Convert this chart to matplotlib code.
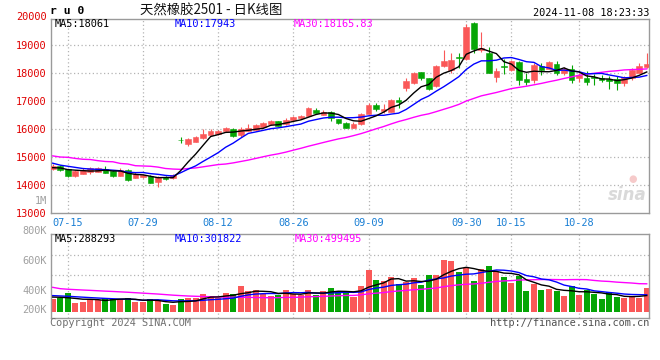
import numpy as np
import pandas as pd
import matplotlib
matplotlib.use("Agg")
import matplotlib.pyplot as plt
import matplotlib.transforms as mtransforms

# ---------------- data ----------------
trade_days = {
    7: [11, 12, 15, 16, 17, 18, 19, 22, 23, 24, 25, 26, 29, 30, 31],
    8: [1, 2, 5, 6, 7, 8, 9, 12, 13, 14, 15, 16, 19, 20, 21, 22, 23, 26, 27, 28, 29, 30],
    9: [2, 3, 4, 5, 6, 9, 10, 11, 12, 13, 18, 19, 20, 23, 24, 25, 26, 27, 30],
    10: [8, 9, 10, 11, 14, 15, 16, 17, 18, 21, 22, 23, 24, 25, 28, 29, 30, 31],
    11: [1, 4, 5, 6, 7, 8],
}
dates = [f"{m:02d}-{d:02d}" for m, days in trade_days.items() for d in days]

opens = [14580, 14690, 14570, 14340, 14420, 14460, 14490, 14580, 14510, 14350,
         14550, 14270, 14280, 14340, 14130, 14300, 14250, 15630, 15480, 15560,
         15680, 15800, 15830, 15940, 16010, 15780, 15950, 15980, 16100, 16190,
         16300, 16190, 16330, 16400, 16480, 16690, 16520, 16620, 16360, 16240,
         16060, 16180, 16560, 16880, 16660, 16630, 17040, 17490, 17650, 18030,
         17820, 17540, 18270, 18120, 18590, 18510, 19810, 18830, 18740, 17880,
         18270, 18110, 18410, 17800, 17760, 18270, 18170, 18330, 18000, 18150,
         17830, 17830, 17870, 17840, 17800, 17790, 17650, 17820, 18020, 18210]
highs = [14750, 14720, 14600, 14540, 14620, 14650, 14650, 14690, 14540, 14620,
         14570, 14480, 14400, 14360, 14330, 14330, 14420, 15740, 15700, 15750,
         16000, 16020, 15990, 16090, 16030, 16100, 16180, 16190, 16250, 16340,
         16310, 16410, 16470, 16520, 16810, 16750, 16680, 16640, 16380, 16260,
         16270, 16570, 16940, 16950, 16900, 17090, 17160, 17820, 18060, 18060,
         17850, 18300, 18830, 18710, 18710, 19760, 19840, 19490, 18940, 18200,
         18520, 18470, 18430, 18000, 18380, 18360, 18440, 18450, 18240, 18310,
         18000, 18100, 17990, 17940, 17910, 17910, 17900, 18180, 18380, 18720]
lows = [14560, 14500, 14300, 14310, 14390, 14420, 14470, 14430, 14280, 14330,
        14170, 14250, 14260, 14070, 13950, 14200, 14230, 15500, 15420, 15540,
        15660, 15780, 15810, 15920, 15740, 15720, 15930, 15960, 16060, 16170,
        16110, 16170, 16300, 16370, 16460, 16570, 16500, 16300, 16190, 16040,
        16040, 16160, 16540, 16670, 16570, 16610, 16760, 17380, 17620, 17760,
        17420, 17520, 18240, 18020, 18190, 18490, 18710, 18770, 18000, 17700,
        17980, 18090, 17590, 17600, 17670, 17950, 18140, 17940, 17940, 17640,
        17700, 17600, 17600, 17700, 17450, 17410, 17550, 17760, 18000, 18180]
closes = [14690, 14560, 14320, 14500, 14550, 14610, 14600, 14450, 14350, 14550,
          14200, 14400, 14370, 14090, 14300, 14230, 14370, 15610, 15640, 15710,
          15820, 15930, 15950, 16040, 15760, 16010, 16060, 16140, 16210, 16300,
          16120, 16350, 16430, 16490, 16770, 16600, 16630, 16400, 16240, 16060,
          16190, 16550, 16870, 16730, 16720, 17040, 16970, 17720, 18020, 17850,
          17430, 18270, 18450, 18490, 18530, 19660, 18860, 18890, 18020, 18090,
          18210, 18430, 17760, 17690, 18290, 18130, 18410, 18000, 18140, 17750,
          17950, 17690, 17830, 17770, 17740, 17660, 17860, 18120, 18260, 18340]
volumes_k = [230, 240, 330, 149, 169, 222, 208, 253, 220, 222,
             241, 172, 175, 222, 197, 133, 115, 229, 243, 243,
             315, 276, 243, 328, 309, 456, 364, 381, 315, 274,
             298, 381, 315, 298, 381, 304, 364, 420, 364, 364,
             269, 453, 745, 566, 543, 615, 489, 525, 596, 476,
             655, 655, 925, 901, 716, 775, 543, 764, 817, 716,
             615, 512, 645, 364, 494, 381, 400, 364, 274, 453,
             298, 394, 315, 220, 345, 256, 243, 286, 243, 417]

# moving-average values before a full window is available
ma5_head = [14630, 14620, 14560, 14540]
ma10_head = [14790, 14720, 14680, 14640, 14600, 14580, 14570, 14560, 14540]
ma30_head = [15050, 15010, 15000, 14960, 14930, 14920, 14880, 14850, 14840, 14780,
             14760, 14700, 14690, 14680, 14650, 14600, 14580, 14570, 14600, 14620,
             14660, 14700, 14740, 14760, 14800, 14850, 14900, 14960, 15020]
vma5_head = [262, 258, 250, 238]
vma10_head = [288, 282, 276, 268, 260, 252, 245, 238, 232]
vma30_head = [436, 412, 402, 395, 388, 382, 375, 368, 362, 355,
              348, 340, 332, 324, 316, 306, 296, 288, 281, 276,
              272, 268, 264, 262, 260, 258, 256, 254, 252]

tick_dates = ["07-15", "07-29", "08-12", "08-26", "09-09", "09-30", "10-15", "10-28"]
price_ticks = [13000, 14000, 15000, 16000, 17000, 18000, 19000]
price_legend = ["MA5:18061", "MA10:17943", "MA30:18165.83"]
vol_legend = ["MA5:288293", "MA10:301822", "MA30:499495"]
vol_tick_labels = ["800K", "600K", "400K", "200K"]
title = "天然橡胶2501 - 日K线图"
symbol = "r u 0"
stamp = "2024-11-08 18:23:33"


def moving(values, n, head):
    s = pd.Series(values, dtype=float).rolling(n).mean().to_numpy()
    s[:len(head)] = head
    return s


volumes = np.array(volumes_k, dtype=float) * 1000
ma5 = moving(closes, 5, ma5_head)
ma10 = moving(closes, 10, ma10_head)
ma30 = moving(closes, 30, ma30_head)
vma5 = moving(volumes, 5, np.array(vma5_head) * 1000)
vma10 = moving(volumes, 10, np.array(vma10_head) * 1000)
vma30 = moving(volumes, 30, np.array(vma30_head) * 1000)

# ---------------- style ----------------
RED = "#fa5858"
GREEN = "#05a505"
GRID = "#b4b4b4"
BORDER = "#9a9a9a"
MONO = "DejaVu Sans Mono"
CJK = ["Noto Sans CJK SC", "DejaVu Sans"]
W, H = 660, 360

fig = plt.figure(figsize=(W / 100, H / 100), dpi=100)
fig.patch.set_facecolor("white")


def box(x0, y0, x1, y1):
    return [x0 / W, 1 - y1 / H, (x1 - x0) / W, (y1 - y0) / H]


def ftext(x, y, s, **kw):
    fig.text(x / W, 1 - y / H, s, **kw)


PX0, PX1 = 50.7, 649.3
axp = fig.add_axes(box(PX0, 19, PX1, 213.3))
axv = fig.add_axes(box(PX0, 234.3, PX1, 318.3))

n = len(closes)
x = np.arange(n)
xlim = (-0.27, 79.34)
tick_idx = [dates.index(d) for d in tick_dates]

for ax in (axp, axv):
    ax.set_xlim(*xlim)
    for s in ax.spines.values():
        s.set_color(BORDER)
        s.set_linewidth(1.0)
    for t in tick_idx:
        ax.axvline(t, color=GRID, lw=0.9, ls=(0, (1, 2)), zorder=0)

# price panel
axp.set_ylim(13000, 13000 + (213.3 - 19) / 0.028)
for p in price_ticks[1:]:
    axp.axhline(p, color=GRID, lw=0.9, ls=(0, (1, 2)), zorder=0)

colors = [RED if c >= o else GREEN for o, c in zip(opens, closes)]
axp.vlines(x, lows, highs, colors=colors, lw=0.8, zorder=2)
bottoms = np.minimum(opens, closes)
heights = np.abs(np.array(closes) - np.array(opens))
axp.bar(x, heights, bottom=bottoms, width=0.76, color=colors,
        edgecolor=colors, linewidth=0.4, zorder=3)

axp.plot(x, ma30, color="#ff00ff", lw=1.0, zorder=4)
axp.plot(x, ma10, color="#0000ff", lw=1.0, zorder=4)
axp.plot(x, ma5, color="#000000", lw=1.0, zorder=4)

axp.set_yticks(price_ticks)
axp.set_yticklabels([str(p) for p in price_ticks])
axp.tick_params(axis="y", length=0, pad=3, labelcolor="#e00000",
                labelsize=7.4, labelfontfamily=MONO)
axp.set_xticks(tick_idx)
axp.set_xticklabels(tick_dates)
axp.tick_params(axis="x", length=0, pad=3.2, labelcolor="#1a7fd4",
                labelsize=7.4, labelfontfamily=MONO)
blend = mtransforms.blended_transform_factory(axp.transAxes, axp.transData)
axp.text(-3.8 / (PX1 - PX0), 20000, "20000", transform=blend, ha="right",
         va="center", color="#e00000", fontsize=7.4, family=MONO, clip_on=False)

# sina watermark
axp.text(0.995, 0.05, "sina", transform=axp.transAxes, ha="right", va="bottom",
         fontsize=12, fontstyle="italic", fontweight="bold", color="#d9d9d9", zorder=1)
axp.text(0.972, 0.15, "●", transform=axp.transAxes, ha="center", va="bottom",
         fontsize=7, color="#f6caca", zorder=1)

# volume panel
VPX = 17.9e3
axv.set_ylim(-(318.3 - 311.7) * VPX, (311.7 - 234.3) * VPX)
for yy in (255, 275):
    axv.axhline((311.7 - yy) * VPX, color=GRID, lw=0.9, ls=(0, (1, 2)), zorder=0)
axv.bar(x, volumes, width=0.8, color=colors, zorder=2)
axv.plot(x, vma30, color="#ff00ff", lw=1.0, zorder=4)
axv.plot(x, vma10, color="#0000ff", lw=1.0, zorder=4)
axv.plot(x, vma5, color="#000000", lw=1.0, zorder=4)
axv.set_xticks([])
axv.set_yticks([])

# ---------------- texts ----------------
fs = 7.4
ftext(49.5, 11.5, symbol, ha="left", va="center", family=MONO,
      fontweight="bold", fontsize=8.2, color="#000000")
ftext(140, 10.5, title, ha="left", va="center", family=CJK, fontsize=9.6,
      color="#111111")
ftext(649, 12.5, stamp, ha="right", va="center", family=MONO, fontsize=fs,
      color="#000000")

for s, xx, col in zip(price_legend, (54.3, 174.3, 293.3),
                      ("#000000", "#0000ff", "#ff00ff")):
    ftext(xx, 24, s, ha="left", va="center", family=MONO, fontsize=fs, color=col)
for s, xx, col in zip(vol_legend, (54.3, 174.3, 295),
                      ("#000000", "#0000ff", "#ff00ff")):
    ftext(xx, 238.5, s, ha="left", va="center", family=MONO, fontsize=fs, color=col)

for s, yy in zip(vol_tick_labels, (230.7, 261, 290.7, 310)):
    ftext(46.7, yy, s, ha="right", va="center", family=MONO, fontsize=fs,
          color="#a0a0a0")
ftext(46.7, 200.7, "1M", ha="right", va="center", family=MONO, fontsize=fs,
      color="#a0a0a0")

ftext(50, 323.5, "Copyright 2024 SINA.COM", ha="left", va="center",
      family=MONO, fontsize=fs, color="#707070")
ftext(649, 323.5, "http://finance.sina.com.cn", ha="right", va="center",
      family=MONO, fontsize=fs, color="#505050")

fig.savefig("out.png", dpi=100, facecolor="white")
